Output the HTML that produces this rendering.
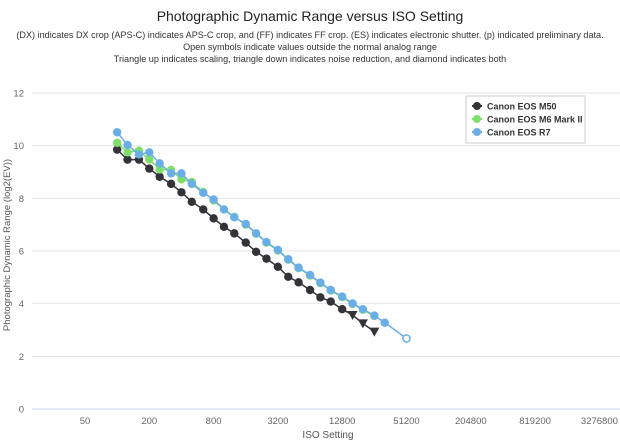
<!DOCTYPE html>
<html><head><meta charset="utf-8"><style>
body{margin:0;background:#fff;font-family:"Liberation Sans",sans-serif}
svg text{font-family:"Liberation Sans",sans-serif}
</style></head><body>
<svg id="c" width="620" height="442">
<text x="310" y="21" text-anchor="middle" font-size="14" fill="#222">Photographic Dynamic Range versus ISO Setting</text>
<text x="310" y="38" text-anchor="middle" font-size="9.1" fill="#333">(DX) indicates DX crop (APS-C) indicates APS-C crop, and (FF) indicates FF crop. (ES) indicates electronic shutter. (p) indicated preliminary data.</text>
<text x="310" y="50" text-anchor="middle" font-size="9.1" fill="#333">Open symbols indicate values outside the normal analog range</text>
<text x="310" y="62" text-anchor="middle" font-size="9.1" fill="#333">Triangle up indicates scaling, triangle down indicates noise reduction, and diamond indicates both</text>
<g id="grid"></g><g id="series"></g>
<text transform="translate(10,245) rotate(-90)" text-anchor="middle" font-size="9.5" fill="#555">Photographic Dynamic Range (log2(EV))</text>
<text x="328" y="438" text-anchor="middle" font-size="10" fill="#555">ISO Setting</text>
<g>
<rect x="466" y="96" width="119" height="47" fill="#fff" stroke="#ccc"/>
<g><line x1="472" y1="106" x2="482" y2="106" stroke="#333" stroke-width="2"/><circle cx="477" cy="106" r="4" fill="#333"/><text x="487" y="109.5" font-size="9" font-weight="bold" fill="#333">Canon EOS M50</text></g>
<g><line x1="472" y1="119" x2="482" y2="119" stroke="#7de06a" stroke-width="2"/><circle cx="477" cy="119" r="4" fill="#7de06a"/><text x="487" y="122.5" font-size="9" font-weight="bold" fill="#333">Canon EOS M6 Mark II</text></g>
<g><line x1="472" y1="132" x2="482" y2="132" stroke="#6aaee8" stroke-width="2"/><circle cx="477" cy="132" r="4" fill="#6aaee8"/><text x="487" y="135.5" font-size="9" font-weight="bold" fill="#333">Canon EOS R7</text></g>
</g>
</svg>
<script>
const xTicks=[50,200,800,3200,12800,51200,204800,819200,3276800];
const yTicks=[0,2,4,6,8,10,12];
const isoThirds=[100,125,160,200,250,320,400,500,640,800,1000,1250,1600,2000,2500,3200,4000,5000,6400,8000,10000,12800,16000,20000,25600,32000];
const m50Values=[9.85,9.47,9.47,9.13,8.82,8.55,8.23,7.87,7.58,7.24,6.92,6.67,6.32,5.97,5.71,5.40,5.02,4.81,4.52,4.24,4.08,3.79,3.57,3.25,2.94];
const m50Markers=['c','c','c','c','c','c','c','c','c','c','c','c','c','c','c','c','c','c','c','c','c','c','t','t','t'];
const m6Values=[10.11,9.75,9.81,9.48,9.10,9.08,8.72,8.62,8.24,7.92,7.58,7.30,7.00,6.66,6.32,6.02,5.67,5.35,5.07,4.78,4.50,4.25,3.99,3.77,3.53];
const r7Values=[10.51,10.03,9.67,9.75,9.33,8.95,8.95,8.55,8.21,7.96,7.58,7.28,7.03,6.67,6.34,6.04,5.69,5.37,5.09,4.80,4.52,4.27,4.01,3.79,3.55,3.28];
const r7ExtraIso=[51200];
const r7ExtraValues=[2.68];
const X=v=>85+Math.log2(v/50)*32.15;
const Y=v=>409-v*26.33;
const NS='http://www.w3.org/2000/svg';
function mk(t,a,p){const e=document.createElementNS(NS,t);for(const k in a)e.setAttribute(k,a[k]);p.appendChild(e);return e;}
const g=document.getElementById('grid'),s=document.getElementById('series');
yTicks.forEach(v=>{const l=mk('line',{x1:32,x2:620,y1:Y(v),y2:Y(v),stroke:v===0?'#ccd6eb':'#e6e6e6'},g);


const t=mk('text',{x:24,y:Y(v)+3.5,'text-anchor':'end','font-size':9.5,fill:'#666'},g);t.textContent=v;

});
xTicks.forEach(v=>{const t=mk('text',{x:X(v),y:424,'text-anchor':'middle','font-size':9.5,fill:'#666'},g);t.textContent=v;

});
function series(vals,color,name,markers){
const pts=vals.map((v,i)=>X(isoThirds[i])+','+Y(v)).join(' ');
const pl=mk('polyline',{points:pts,fill:'none',stroke:color,'stroke-width':1.5},s);


vals.forEach((v,i)=>{const x=X(isoThirds[i]),y=Y(v);let m;
if(markers&&markers[i]==='t'){m=mk('path',{d:`M${x-5},${y-4}L${x+5},${y-4}L${x},${y+5}Z`,fill:color},s);}
else m=mk('circle',{cx:x,cy:y,r:4.2,fill:color},s);

});}
series(m50Values,'#333338','m50',m50Markers);
series(m6Values,'#7de06a','m6-mark-ii');
series(r7Values,'#6aaee8','r7');
r7ExtraIso.forEach((iso,i)=>{const lastI=r7Values.length-1;
const l=mk('line',{x1:X(isoThirds[lastI]),y1:Y(r7Values[lastI]),x2:X(iso),y2:Y(r7ExtraValues[i]),stroke:'#6aaee8','stroke-width':1.5},s);


const c=mk('circle',{cx:X(iso),cy:Y(r7ExtraValues[i]),r:3.6,fill:'#fff',stroke:'#6aaee8','stroke-width':1.5},s);

});
</script>
</body></html>
